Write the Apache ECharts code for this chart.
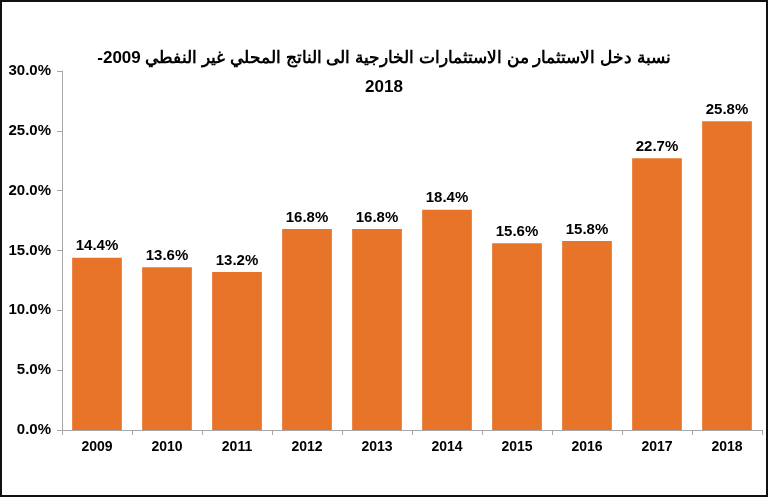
<!DOCTYPE html>
<html>
<head>
<meta charset="utf-8">
<script src="https://cdn.jsdelivr.net/npm/echarts@6/dist/echarts.min.js"></script>
<style>
  html, body { margin: 0; padding: 0; background: #fff; }
  #frame { position: absolute; left: 0; top: 0; width: 768px; height: 497px; box-sizing: border-box; border: 2px solid #111; }
  #chart { width: 764px; height: 493px; }
</style>
</head>
<body>
<div id="frame"><div id="chart"></div></div>
<script>
const years = ["2009", "2010", "2011", "2012", "2013", "2014", "2015", "2016", "2017", "2018"];
const shares = [14.4, 13.6, 13.2, 16.8, 16.8, 18.4, 15.6, 15.8, 22.7, 25.8];
// RLE ... PDF keeps the trailing dash on the left as in a right-to-left line
const titleText = "\u202Bنسبة دخل الاستثمار من الاستثمارات الخارجية الى الناتج المحلي غير النفطي 2009-\u202C\n2018";

const chart = echarts.init(document.getElementById("chart"));
chart.setOption({
  animation: false,
  title: {
    text: titleText,
    left: "center",
    top: 37,
    textStyle: { fontFamily: "Liberation Sans, Arial", fontWeight: "bold", fontSize: 17, color: "#000", lineHeight: 29 }
  },
  grid: { left: 60, right: 4, top: 69, bottom: 65 },
  xAxis: {
    type: "category",
    data: years,
    axisLine: { lineStyle: { color: "#a6a6a6" } },
    axisTick: { show: true, length: 5, lineStyle: { color: "#a6a6a6" } },
    axisLabel: { margin: 10, color: "#000", fontWeight: "bold", fontSize: 14, fontFamily: "Liberation Sans, Arial" }
  },
  yAxis: {
    type: "value",
    min: 0,
    max: 30,
    interval: 5,
    splitLine: { show: false },
    axisLine: { show: true, lineStyle: { color: "#a6a6a6" } },
    axisTick: { show: true, length: 5, lineStyle: { color: "#a6a6a6" } },
    axisLabel: {
      margin: 11,
      color: "#000",
      fontWeight: "bold",
      fontSize: 15,
      fontFamily: "Liberation Sans, Arial",
      formatter: v => v.toFixed(1) + "%"
    }
  },
  series: [{
    type: "bar",
    data: shares,
    barWidth: "71%",
    itemStyle: { color: "#e8742a" },
    label: {
      show: true,
      position: "top",
      distance: 4,
      color: "#000",
      fontWeight: "bold",
      fontSize: 15,
      fontFamily: "Liberation Sans, Arial",
      formatter: p => p.value.toFixed(1) + "%"
    }
  }]
});
</script>
</body>
</html>
